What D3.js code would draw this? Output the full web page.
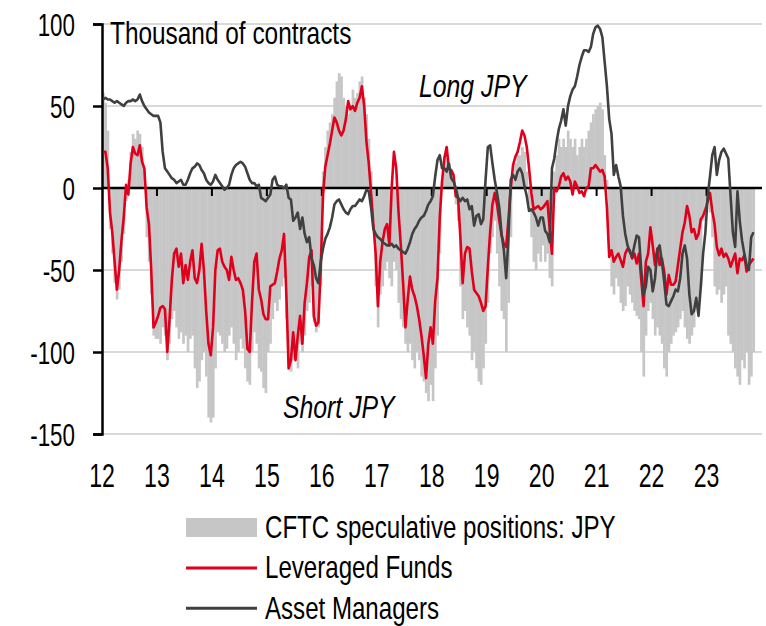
<!DOCTYPE html>
<html>
<head>
<meta charset="utf-8">
<script src="https://cdn.jsdelivr.net/npm/d3@7/dist/d3.min.js"></script>
<style>
	body { margin:0; background:#ffffff; }
	text { font-family:"Liberation Sans",Arial,sans-serif; fill:#000000; }
</style>
</head>
<body>
<svg id="chart" width="766" height="626"></svg>
<script>

// --------------------------------
// data: half-monthly readings, thousand of contracts
// series start 2012-01, one value every 1/24 year
// --------------------------------

var nStartYear = 2012;
var nStep = 1/24;

var yTicks = [100, 50, 0, -50, -100, -150];
var xTickYears = [2012, 2013, 2014, 2015, 2016, 2017, 2018, 2019, 2020, 2021, 2022, 2023];
var xTickLabels = ["12","13","14","15","16","17","18","19","20","21","22","23"];

// CFTC speculative positions: JPY (grey bars)
var cftcJPY = [
	58, 52, 35, -25, -40, -58, -68, -62, -45, -28, -8, 5, 22, 33, 30, 35, 33, 25, 10, -30, -45, -65, -90, -92,
	-92, -95, -85, -90, -105, -95, -80, -75, -85, -92, -88, -95, -90, -100, -92, -90, -110, -122, -118, -105, -100, -115, -140, -143,
	-140, -110, -88, -90, -95, -100, -98, -90, -85, -95, -105, -100, -92, -98, -110, -118, -120, -100, -88, -95, -110, -112, -122, -125,
	-100, -95, -80, -70, -75, -68, -60, -55, -80, -108, -112, -105, -100, -110, -95, -100, -90, -75, -70, -60, -82, -88, -85, -60,
	10, 25, 35, 40, 45, 55, 65, 70, 68, 55, 50, 45, 50, 60, 55, 58, 65, 68, 55, 45, 30, 10, -20, -60,
	-85, -65, -60, -50, -45, -55, -60, -45, -50, -70, -80, -85, -95, -100, -95, -105, -110, -100, -105, -115, -118, -125, -130, -120,
	-130, -110, -90, -40, 5, 20, 25, 15, 5, 0, -10, -20, -60, -80, -75, -85, -90, -105, -100, -110, -118, -120, -110, -95,
	-70, -40, -30, -20, -40, -60, -75, -80, -100, -70, -30, 5, 15, 20, 20, 25, 22, 10, -10, -30, -45, -50, -40, -45,
	-35, -45, -40, -55, -60, 10, 20, 30, 25, 30, 25, 35, 30, 25, 30, 20, 25, 30, 25, 30, 35, 40, 45, 48,
	50, 52, 48, 20, 5, -40, -60, -65, -55, -60, -70, -75, -72, -60, -65, -70, -75, -78, -80, -100, -115, -90, -75, -70,
	-80, -90, -85, -90, -95, -110, -115, -100, -95, -90, -88, -85, -80, -75, -85, -92, -95, -90, -85, -72, -70, -60, -20, -10,
	-5, -15, -30, -60, -65, -62, -70, -65, -60, -90, -95, -100, -110, -115, -120, -105, -110, -100, -120, -115, -100
];

// Leveraged Funds (red line)
var leveragedFunds = [
	22, 22, 12, -15, -27, -45, -62, -50, -32, -18, 2, -4, 15, 25, 21, 20, 26, 16, 12, -12, -22, -50, -85, -82,
	-78, -73, -72, -74, -100, -80, -56, -40, -37, -48, -40, -58, -47, -56, -45, -38, -55, -58, -50, -34, -50, -75, -95, -102,
	-85, -50, -38, -37, -45, -48, -50, -56, -42, -50, -56, -55, -58, -62, -75, -98, -100, -70, -45, -40, -62, -68, -77, -80,
	-80, -60, -59, -58, -51, -43, -38, -28, -65, -110, -105, -88, -105, -90, -78, -95, -70, -58, -42, -38, -78, -84, -82, -50,
	-5, 13, 20, 27, 35, 43, 40, 35, 32, 35, 42, 53, 48, 50, 47, 52, 55, 62, 50, 28, 15, -3, -22, -40,
	-72, -45, -33, -25, -22, -35, 0, 22, 12, -15, -35, -58, -85, -68, -54, -62, -66, -72, -80, -90, -102, -116, -95, -85,
	-95, -69, -55, -18, 4, 18, 25, 12, 11, 8, -5, -6, -30, -58, -40, -36, -37, -51, -62, -64, -66, -70, -75, -72,
	-48, -27, -10, -3, -10, -20, -29, -34, -36, -19, 0, 14, 19, 22, 28, 35, 32, 25, 12, -3, -13, -12, -11, -13,
	-12, -10, -8, -25, -40, 0, -2, 1, 7, 9, 5, 7, 4, -4, 4, 1, -3, -2, -5, 0, 1, 12, 12, 14,
	12, 10, 11, 7, -12, -42, -38, -45, -42, -40, -44, -48, -40, -37, -38, -43, -40, -46, -40, -56, -72, -45, -40, -24,
	-35, -47, -37, -47, -43, -51, -65, -53, -59, -59, -57, -47, -37, -27, -21, -11, -17, -27, -25, -31, -28, -19, -17, -13,
	-8, -3, -14, -22, -36, -41, -37, -42, -40, -43, -48, -44, -40, -52, -43, -44, -41, -51, -47, -45, -43
];

// Asset Managers (dark line)
var assetManagers = [
	54, 55, 54, 54, 53, 52, 53, 52, 51, 50, 52, 53, 53, 54, 53, 54, 57, 53, 50, 48, 46, 45, 44, 44,
	44, 40, 22, 12, 10, 8, 6, 5, 3, 4, 5, 2, 2, 5, 9, 12, 13, 15, 14, 11, 9, 5, 3, 2,
	4, 8, 5, 3, 1, -1, 0, 2, 8, 12, 14, 15, 16, 15, 13, 9, 5, 3, 3, 1, 2, -6, -7, -8,
	-6, -4, 5, 7, 2, 1, 1, 0, 2, -6, -7, -20, -18, -15, -25, -18, -28, -33, -30, -43, -47, -55, -58, -45,
	-37, -31, -28, -24, -18, -10, -8, -7, -10, -13, -15, -16, -13, -11, -11, -9, -7, -8, -5, -1, -2, -12, -25, -28,
	-30, -31, -33, -34, -35, -35, -34, -36, -35, -37, -38, -39, -40, -37, -33, -28, -25, -23, -20, -18, -17, -14, -10, -8,
	-5, 7, 17, 20, 12, 12, 10, 15, 6, 4, 0, -6, -8, -6, -8, -7, -13, -11, -23, -17, -16, -22, -19, 5,
	25, 26, 15, 5, -3, -12, -28, -38, -55, -30, 5, 8, 5, 10, 12, 9, 1, -5, -14, -13, -15, -18, -23, -18,
	-18, -26, -28, -33, 12, 18, 28, 36, 41, 48, 38, 50, 56, 60, 62, 68, 75, 80, 84, 84, 83, 86, 94, 98,
	99, 97, 92, 77, 62, 42, 33, 8, 14, 7, 1, -17, -28, -35, -39, -42, -35, -29, -30, -50, -65, -60, -48, -50,
	-63, -55, -38, -35, -45, -57, -71, -72, -69, -66, -62, -63, -55, -40, -35, -43, -65, -77, -75, -67, -78, -60, -40, -27,
	-5, 7, 20, 25, 8, 17, 22, 24, 21, 18, -5, -27, -36, -2, -20, -32, -40, -47, -50, -30, -27
];

var legendLabels = ["CFTC speculative positions: JPY", "Leveraged Funds", "Asset Managers"];

// --------------------------------
// drawing
// --------------------------------

var szGrey = "#c6c6c6";
var szRed = "#e0001b";
var szDark = "#404040";

var svg = d3.select("#chart");

var x = d3.scaleLinear().domain([2012, 2024]).range([102, 761.5]);
var y = d3.scaleLinear().domain([-150, 100]).range([434, 24]);

var dateOf = function(i){ return nStartYear + (i + 0.5) * nStep; };

// the reference uses a condensed face, so squeeze the text horizontally
var __addText = function(target, nX, nY, szText, nSize, nScaleX, szStyle){
	return target.append("text")
		.attr("transform", "translate(" + nX + "," + nY + ") scale(" + nScaleX + ",1)")
		.attr("style", "font-size:" + nSize + "px;" + (szStyle || ""))
		.text(szText);
};

// horizontal grid lines
svg.append("g").selectAll("line")
	.data(yTicks.filter(function(d){ return d != 0; }))
	.enter().append("line")
	.attr("x1", x(2012)).attr("x2", 762)
	.attr("y1", function(d){ return y(d); }).attr("y2", function(d){ return y(d); })
	.attr("style", "stroke:#d9d9d9;stroke-width:2");

// grey bars for the CFTC positions
var nBarW = x(nStartYear + nStep) - x(nStartYear);
svg.append("g").selectAll("rect")
	.data(cftcJPY)
	.enter().append("rect")
	.attr("x", function(d, i){ return x(dateOf(i)) - nBarW/2; })
	.attr("width", nBarW + 0.4)
	.attr("y", function(d){ return Math.min(y(d), y(0)); })
	.attr("height", function(d){ return Math.abs(y(d) - y(0)); })
	.attr("style", "fill:" + szGrey + ";stroke:none");

// zero line with the year ticks
svg.append("line")
	.attr("x1", x(2012)).attr("x2", 762)
	.attr("y1", y(0)).attr("y2", y(0))
	.attr("style", "stroke:#000000;stroke-width:2.5");
svg.append("g").selectAll("line")
	.data(xTickYears.slice(1))
	.enter().append("line")
	.attr("x1", function(d){ return x(d); }).attr("x2", function(d){ return x(d); })
	.attr("y1", y(0)).attr("y2", y(0) + 8)
	.attr("style", "stroke:#000000;stroke-width:2");

// y axis, labels drawn separately for the condensed look
var yAxis = svg.append("g")
	.attr("transform", "translate(" + x(2012) + ",0)")
	.call(d3.axisLeft(y).tickValues(yTicks).tickSize(9).tickFormat(""));
yAxis.select(".domain").attr("style", "stroke:#000000;stroke-width:2.5");
yAxis.selectAll(".tick line").attr("style", "stroke:#000000;stroke-width:2.5");

yTicks.forEach(function(d){
	__addText(svg, 75, y(d) + 11.5, String(d), 32, 0.7, "text-anchor:end");
});

// x labels
xTickYears.forEach(function(d, i){
	__addText(svg, x(d), 487, xTickLabels[i], 33, 0.7, "text-anchor:middle");
});

// lines
var line = d3.line()
	.x(function(d, i){ return x(dateOf(i)); })
	.y(function(d){ return y(d); });

svg.append("path")
	.attr("d", line(leveragedFunds))
	.attr("style", "fill:none;stroke:" + szRed + ";stroke-width:2.6;stroke-linejoin:round");
svg.append("path")
	.attr("d", line(assetManagers))
	.attr("style", "fill:none;stroke:" + szDark + ";stroke-width:2.6;stroke-linejoin:round");

// annotations
__addText(svg, 110, 43.5, "Thousand of contracts", 30.5, 0.8);
__addText(svg, 419, 96.5, "Long JPY", 31, 0.8, "font-style:italic");
__addText(svg, 283, 418, "Short JPY", 31, 0.8, "font-style:italic");

// --------------------------------
// legend
// --------------------------------

var nLegX = 186, nLegY = 527.5, nLegStep = 40.4;

svg.append("rect")
	.attr("x", nLegX).attr("y", nLegY - 9.5)
	.attr("width", 71).attr("height", 19)
	.attr("style", "fill:" + szGrey);
svg.append("line")
	.attr("x1", nLegX).attr("x2", nLegX + 71)
	.attr("y1", nLegY + nLegStep).attr("y2", nLegY + nLegStep)
	.attr("style", "stroke:" + szRed + ";stroke-width:3");
svg.append("line")
	.attr("x1", nLegX).attr("x2", nLegX + 71)
	.attr("y1", nLegY + 2*nLegStep).attr("y2", nLegY + 2*nLegStep)
	.attr("style", "stroke:" + szDark + ";stroke-width:3");

legendLabels.forEach(function(d, i){
	__addText(svg, nLegX + 79, nLegY + i*nLegStep + 10.5, d, 30.5, 0.79);
});

</script>
</body>
</html>
